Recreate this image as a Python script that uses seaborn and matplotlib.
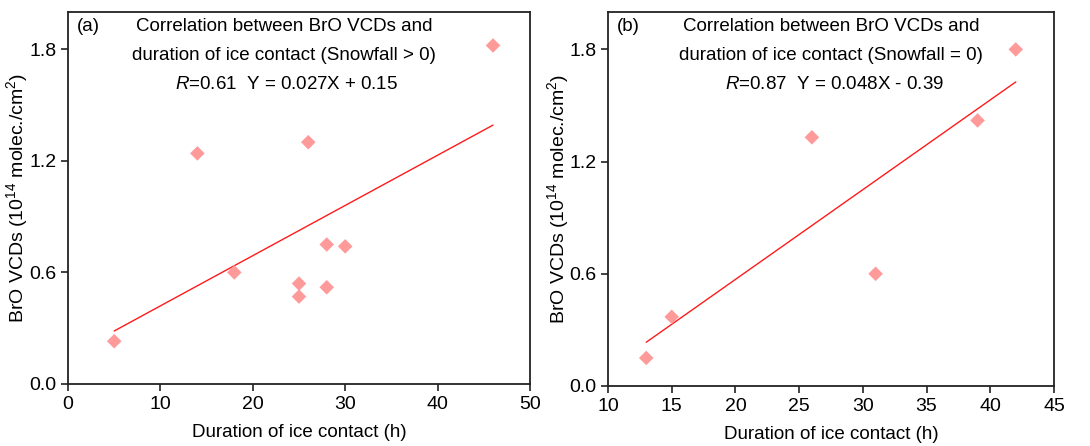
import numpy as np
import pandas as pd
import matplotlib
matplotlib.use("Agg")
import matplotlib.pyplot as plt
import seaborn as sns

# panel (a): snowfall > 0
hours_a = [5, 14, 18, 25, 25, 26, 28, 28, 30, 46]
bro_a = [0.23, 1.24, 0.60, 0.54, 0.47, 1.30, 0.75, 0.52, 0.74, 1.82]
fit_a = (0.027, 0.15)
lines_a = ["Correlation between BrO VCDs and",
           "duration of ice contact (Snowfall > 0)",
           "$\\mathit{R}$=0.61  Y = 0.027X + 0.15"]

# panel (b): snowfall = 0
hours_b = [13, 15, 26, 31, 39, 42]
bro_b = [0.15, 0.37, 1.33, 0.60, 1.42, 1.80]
fit_b = (0.048, -0.39)
lines_b = ["Correlation between BrO VCDs and",
           "duration of ice contact (Snowfall = 0)",
           "$\\mathit{R}$=0.87  Y = 0.048X - 0.39"]

sns.set_theme(style="ticks")
plt.rcParams["font.family"] = ["Liberation Sans", "DejaVu Sans"]
plt.rcParams["mathtext.fontset"] = "custom"
plt.rcParams["mathtext.it"] = "Liberation Sans:italic"
plt.rcParams["mathtext.rm"] = "Liberation Sans"
plt.rcParams["text.color"] = "black"
plt.rcParams["axes.labelcolor"] = "black"
plt.rcParams["xtick.labelcolor"] = "black"
plt.rcParams["ytick.labelcolor"] = "black"

fig = plt.figure(figsize=(10.9, 4.46), dpi=100)
ax_a = fig.add_axes([68 / 1090, 1 - 384 / 446, 462 / 1090, 372 / 446])
ax_b = fig.add_axes([608 / 1090, 1 - 386 / 446, 446 / 1090, 374 / 446])

panels = [
    (ax_a, hours_a, bro_a, fit_a, "(a)", lines_a, [0.468, 0.468, 0.472], -0.082,
     (0, 50), [0, 10, 20, 30, 40, 50]),
    (ax_b, hours_b, bro_b, fit_b, "(b)", lines_b, [0.50, 0.50, 0.508], -0.083,
     (10, 45), [10, 15, 20, 25, 30, 35, 40, 45]),
]

fs = 13.5
for ax, xs, ys, (k, b), tag, lines, xcs, ylab_x, xlim, xticks in panels:
    df = pd.DataFrame({"hours": xs, "bro": ys})
    sns.scatterplot(data=df, x="hours", y="bro", ax=ax, marker="D", s=55,
                    color="#FF9A9A", edgecolor="none", zorder=3)
    xl = np.array([min(xs), max(xs)])
    sns.lineplot(x=xl, y=k * xl + b, ax=ax, color="#FF1A1A", lw=1.0)
    ax.set_xlim(*xlim)
    ax.set_ylim(0, 2.0)
    ax.set_xticks(xticks)
    ax.set_yticks([0.0, 0.6, 1.2, 1.8])
    ax.set_yticklabels(["0.0", "0.6", "1.2", "1.8"])
    ax.tick_params(direction="out", length=5, width=1.2, labelsize=14, color="#222222")
    for sp in ax.spines.values():
        sp.set_color("#222222")
        sp.set_linewidth(1.3)
    ax.set_xlabel("Duration of ice contact (h)", fontsize=fs, labelpad=8)
    ax.set_ylabel("BrO VCDs (10$^{14}$ molec./cm$^{2}$)", fontsize=14)
    ax.yaxis.set_label_coords(ylab_x, 0.5)
    ax.text(0.02, 0.960, tag, transform=ax.transAxes, ha="left", va="center", fontsize=fs)
    for line, xc, yc in zip(lines, xcs, [0.960, 0.883, 0.805]):
        ax.text(xc, yc, line, transform=ax.transAxes, ha="center", va="center", fontsize=fs)

fig.savefig("out.png", dpi=100)
